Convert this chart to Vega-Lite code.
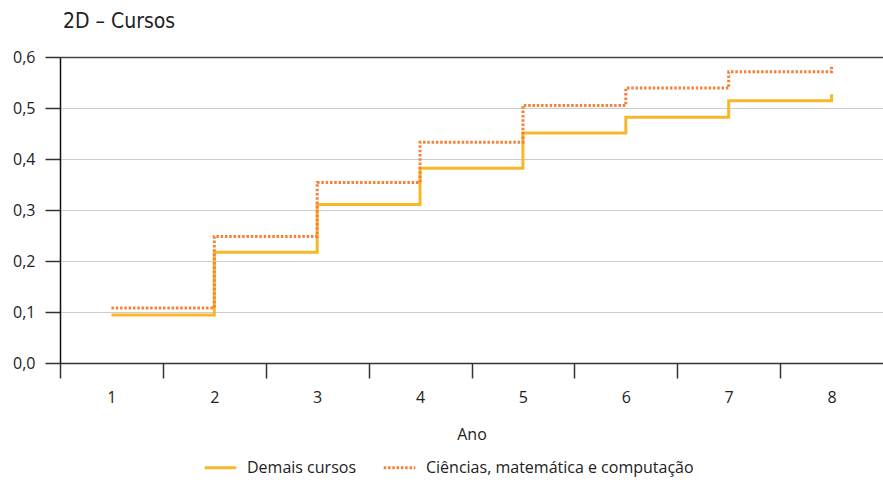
{
  "$schema": "https://vega.github.io/schema/vega-lite/v6.json",
  "autosize": "none",
  "width": 823,
  "height": 306,
  "padding": {"left": 60, "top": 57, "right": 0, "bottom": 128},
  "background": "white",
  "title": {
    "text": "2D – Cursos",
    "anchor": "start",
    "frame": "group",
    "font": "Liberation Sans Narrow, DejaVu Sans Condensed, sans-serif",
    "fontSize": 21,
    "fontWeight": "normal",
    "color": "#222",
    "offset": 17,
    "dx": 3
  },
  "config": {
    "view": {"stroke": null},
    "font": "Open Sans",
    "axis": {"labelFont": "Open Sans", "titleFont": "Open Sans", "labelFontSize": 16, "titleFontSize": 16, "labelColor": "#222", "titleColor": "#222", "titleFontWeight": "normal"},
    "legend": {"labelFont": "Open Sans", "labelFontSize": 16, "labelColor": "#222"}
  },
  "data": {
    "values": [
      {"ano": 1, "serie": "Demais cursos", "valor": 0.094},
      {"ano": 2, "serie": "Demais cursos", "valor": 0.217},
      {"ano": 3, "serie": "Demais cursos", "valor": 0.311},
      {"ano": 4, "serie": "Demais cursos", "valor": 0.382},
      {"ano": 5, "serie": "Demais cursos", "valor": 0.451},
      {"ano": 6, "serie": "Demais cursos", "valor": 0.482},
      {"ano": 7, "serie": "Demais cursos", "valor": 0.514},
      {"ano": 8, "serie": "Demais cursos", "valor": 0.527},
      {"ano": 1, "serie": "Ciências, matemática e computação", "valor": 0.108},
      {"ano": 2, "serie": "Ciências, matemática e computação", "valor": 0.248},
      {"ano": 3, "serie": "Ciências, matemática e computação", "valor": 0.354},
      {"ano": 4, "serie": "Ciências, matemática e computação", "valor": 0.433},
      {"ano": 5, "serie": "Ciências, matemática e computação", "valor": 0.505},
      {"ano": 6, "serie": "Ciências, matemática e computação", "valor": 0.539},
      {"ano": 7, "serie": "Ciências, matemática e computação", "valor": 0.571},
      {"ano": 8, "serie": "Ciências, matemática e computação", "valor": 0.584}
    ]
  },
  "mark": {"type": "line", "interpolate": "step-after", "strokeWidth": 3},
  "encoding": {
    "x": {
      "field": "ano",
      "type": "quantitative",
      "scale": {"domain": [0.5, 8.5], "nice": false, "zero": false},
      "axis": {
        "title": "Ano",
        "values": [0.5, 1, 1.5, 2, 2.5, 3, 3.5, 4, 4.5, 5, 5.5, 6, 6.5, 7, 7.5, 8],
        "labelExpr": "datum.value % 1 === 0 ? format(datum.value, 'd') : ''",
        "tickColor": {"condition": {"test": "datum.value % 1 === 0", "value": "transparent"}, "value": "#333"},
        "tickSize": 15,
        "tickWidth": 1.5,
        "domainColor": "#333",
        "domainWidth": 1.5,
        "labelPadding": 11,
        "titlePadding": 21,
        "grid": false
      }
    },
    "y": {
      "field": "valor",
      "type": "quantitative",
      "scale": {"domain": [0, 0.6], "nice": false},
      "axis": {
        "title": null,
        "values": [0, 0.1, 0.2, 0.3, 0.4, 0.5, 0.6],
        "labelExpr": "replace(format(datum.value, '.1f'), '.', ',')",
        "tickSize": 15,
        "tickColor": "#333",
        "tickWidth": 1.5,
        "domainColor": "#111",
        "domainWidth": 1.5,
        "labelPadding": 10,
        "grid": true,
        "gridColor": {"condition": {"test": "datum.value >= 0.6", "value": "#444"}, "value": "#cccccc"},
        "gridWidth": {"condition": {"test": "datum.value >= 0.6", "value": 1.5}, "value": 1.2}
      }
    },
    "color": {
      "field": "serie",
      "type": "nominal",
      "scale": {"domain": ["Demais cursos", "Ciências, matemática e computação"], "range": ["#F7B72A", "#F5823A"]},
      "legend": {
        "title": null,
        "orient": "none",
        "legendX": 143,
        "legendY": 393,
        "direction": "horizontal",
        "symbolType": "stroke",
        "symbolSize": 1000,
        "symbolStrokeWidth": 3,
        "columnPadding": 20,
        "labelOffset": 9,
        "labelLimit": 0,
        "labelFontSize": 16
      }
    },
    "strokeDash": {
      "field": "serie",
      "type": "nominal",
      "scale": {"domain": ["Demais cursos", "Ciências, matemática e computação"], "range": [[1, 0], [2.5, 1.8]]}
    }
  }
}
